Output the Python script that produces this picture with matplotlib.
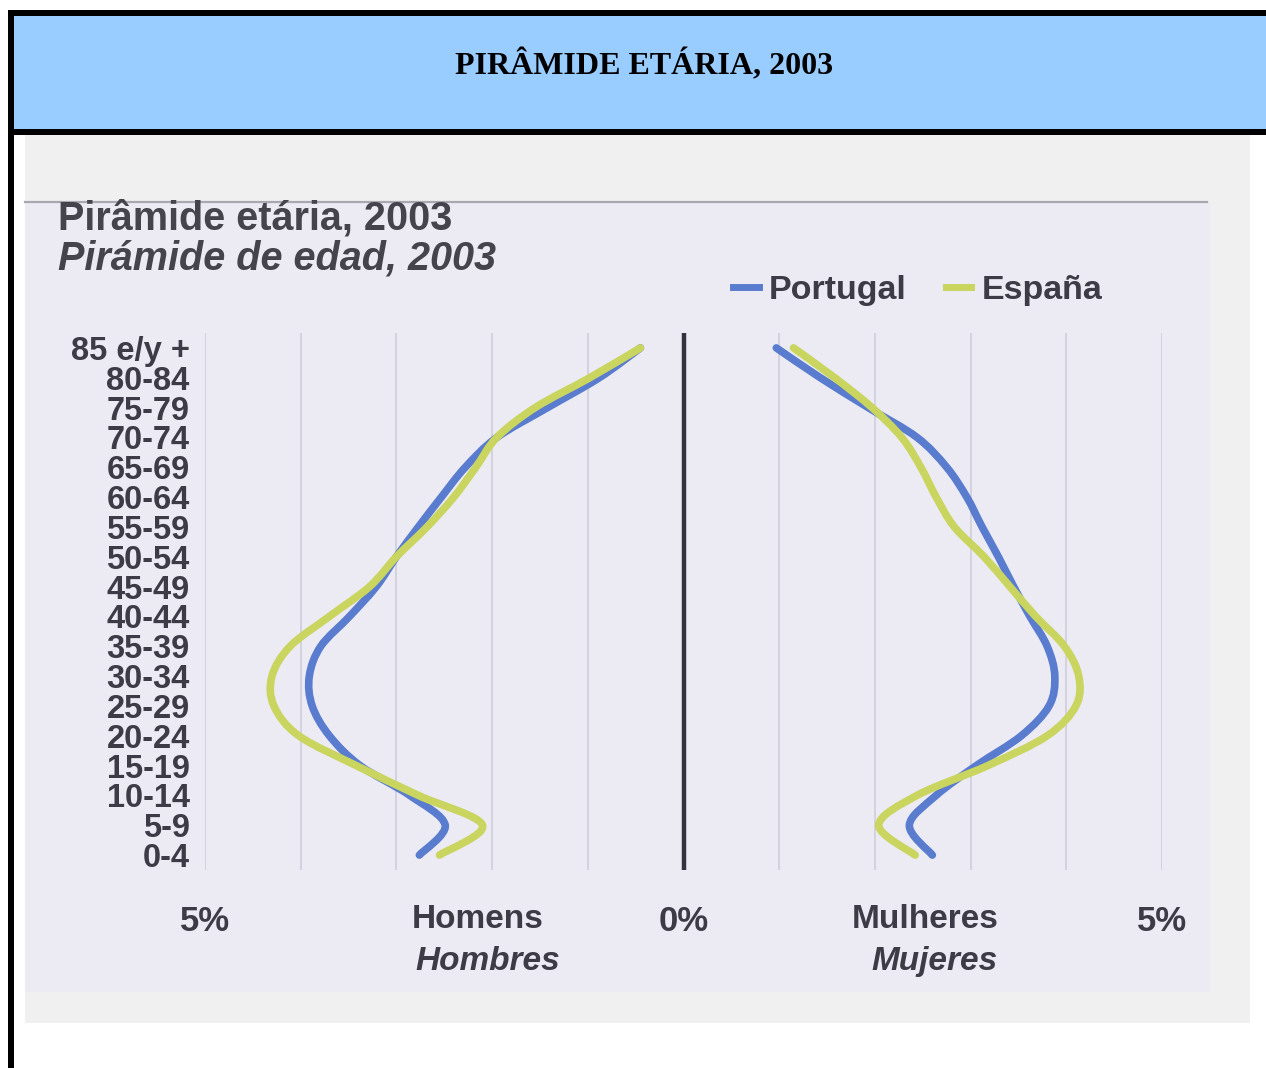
import matplotlib.pyplot as plt
import numpy as np
from matplotlib.patches import Rectangle, PathPatch
from matplotlib.path import Path
from matplotlib.lines import Line2D

# faixas etarias, de baixo para cima
faixas = ['0-4', '5-9', '10-14', '15-19', '20-24', '25-29', '30-34', '35-39',
          '40-44', '45-49', '50-54', '55-59', '60-64', '65-69', '70-74',
          '75-79', '80-84', '85 e/y +']

# % da populacao, mesma ordem das faixas
homens_pt = [2.76, 2.49, 2.86, 3.38, 3.70, 3.88, 3.91, 3.79, 3.49, 3.21,
             3.00, 2.77, 2.53, 2.28, 1.95, 1.42, 0.88, 0.45]
homens_es = [2.55, 2.10, 2.77, 3.42, 4.02, 4.28, 4.30, 4.11, 3.70, 3.28,
             3.00, 2.68, 2.40, 2.17, 1.95, 1.55, 0.98, 0.45]
mulheres_pt = [2.60, 2.36, 2.64, 3.06, 3.53, 3.82, 3.88, 3.80, 3.62, 3.45,
               3.29, 3.12, 2.96, 2.75, 2.44, 1.93, 1.43, 0.97]
mulheres_es = [2.42, 2.04, 2.44, 3.18, 3.80, 4.10, 4.13, 3.98, 3.68, 3.41,
               3.14, 2.83, 2.64, 2.48, 2.28, 1.97, 1.58, 1.15]

paises = ['Portugal', 'España']
cores = ['#5a7ccf', '#c9d55e']
xticks = [-5, 0, 5]
xlabels = ['5%', '0%', '5%']

W, H = 1266, 1068
fonte = 'Liberation Sans'
cinza_txt = '#3d3b45'


def fx(px):
    return px / W


def fy(py):
    return 1 - py / H


def caixa(fig, x0, y0, x1, y1, cor):
    fig.patches.append(Rectangle((fx(x0), fy(y1)), fx(x1) - fx(x0), fy(y0) - fy(y1),
                                 transform=fig.transFigure, facecolor=cor,
                                 edgecolor='none', zorder=-2))


def curva(ax, xs, ys, cor):
    # linha suavizada (catmull-rom -> bezier) passando pelos pontos
    p = np.column_stack([xs, ys]).astype(float)
    p = np.vstack([p[0], p, p[-1]])
    verts = [p[1]]
    codes = [Path.MOVETO]
    for i in range(1, len(p) - 2):
        c1 = p[i] + (p[i + 1] - p[i - 1]) / 6
        c2 = p[i + 1] - (p[i + 2] - p[i]) / 6
        verts += [c1, c2, p[i + 1]]
        codes += [Path.CURVE4] * 3
    ax.add_patch(PathPatch(Path(verts, codes), fill=False, edgecolor=cor, lw=5.5,
                           capstyle='round', joinstyle='round', zorder=3))


fig = plt.figure(figsize=(W / 100, H / 100), dpi=100)
fig.patch.set_facecolor('white')

# cabecalho azul com moldura preta
caixa(fig, 14, 16, W, 129, '#99ccff')
caixa(fig, 8, 10, W, 16, 'black')
caixa(fig, 8, 129, W, 135, 'black')
caixa(fig, 8, 10, 14, H, 'black')
fig.text(fx(644), fy(65), 'PIRÂMIDE ETÁRIA, 2003', ha='center', va='center',
         fontsize=23, fontweight='bold', family='Liberation Serif', color='black')

# fundo da imagem digitalizada
caixa(fig, 25, 135, 1250, 1023, '#f0f0f1')
caixa(fig, 25, 202, 1210, 992, '#ecebf4')
fig.lines.append(Line2D([fx(25), fx(1207)], [fy(202), fy(202)], transform=fig.transFigure,
                        color='#a9a8b2', lw=1.6, zorder=-1))

fig.text(fx(58), fy(219), 'Pirâmide etária, 2003', ha='left', va='center',
         fontsize=28.5, fontweight='bold', family=fonte, color='#45434c')
fig.text(fx(58), fy(259), 'Pirámide de edad, 2003', ha='left', va='center',
         fontsize=28.5, fontweight='bold', style='italic', family=fonte, color='#45434c')

ax = fig.add_axes([fx(205), fy(870), fx(1162) - fx(205), fy(333) - fy(870)])
ax.set_facecolor('none')
ax.set_xlim(-5, 5)
ax.set_ylim(-0.5, len(faixas) - 0.5)
for s in ax.spines.values():
    s.set_visible(False)

for xv in range(-5, 6):
    if xv == 0:
        ax.axvline(0, color='#35323f', lw=3.2, zorder=2)
    else:
        ax.axvline(xv, color='#cdcbd8', lw=1.1, zorder=1)

y = np.arange(len(faixas))
curva(ax, -np.array(homens_pt), y, cores[0])
curva(ax, -np.array(homens_es), y, cores[1])
curva(ax, mulheres_pt, y, cores[0])
curva(ax, mulheres_es, y, cores[1])

ax.set_yticks(y)
ax.set_yticklabels(faixas, fontsize=23.5, fontweight='bold', family=fonte, color=cinza_txt)
ax.set_xticks(xticks)
ax.set_xticklabels(xlabels, fontsize=25, fontweight='bold', family=fonte, color=cinza_txt)
ax.tick_params(axis='y', length=0, pad=11)
ax.tick_params(axis='x', length=0, pad=25)

tr = ax.get_xaxis_transform()
ax.text(-2.15, -0.092, 'Homens', transform=tr, ha='center', va='center', fontsize=24,
        fontweight='bold', family=fonte, color=cinza_txt)
ax.text(-2.05, -0.171, 'Hombres', transform=tr, ha='center', va='center', fontsize=24,
        fontweight='bold', style='italic', family=fonte, color=cinza_txt)
ax.text(2.53, -0.092, 'Mulheres', transform=tr, ha='center', va='center', fontsize=24,
        fontweight='bold', family=fonte, color=cinza_txt)
ax.text(2.62, -0.171, 'Mujeres', transform=tr, ha='center', va='center', fontsize=24,
        fontweight='bold', style='italic', family=fonte, color=cinza_txt)

handles = [Line2D([], [], color=c, lw=5) for c in cores]
leg = fig.legend(handles, paises, loc='center left', bbox_to_anchor=(fx(733), fy(290)),
                 ncol=2, frameon=False, handlelength=0.75, handletextpad=0.3,
                 columnspacing=1.15, borderpad=0, borderaxespad=0,
                 prop={'family': fonte, 'weight': 'bold', 'size': 24.5})
for t in leg.get_texts():
    t.set_color(cinza_txt)

fig.savefig('out.png', dpi=100)
